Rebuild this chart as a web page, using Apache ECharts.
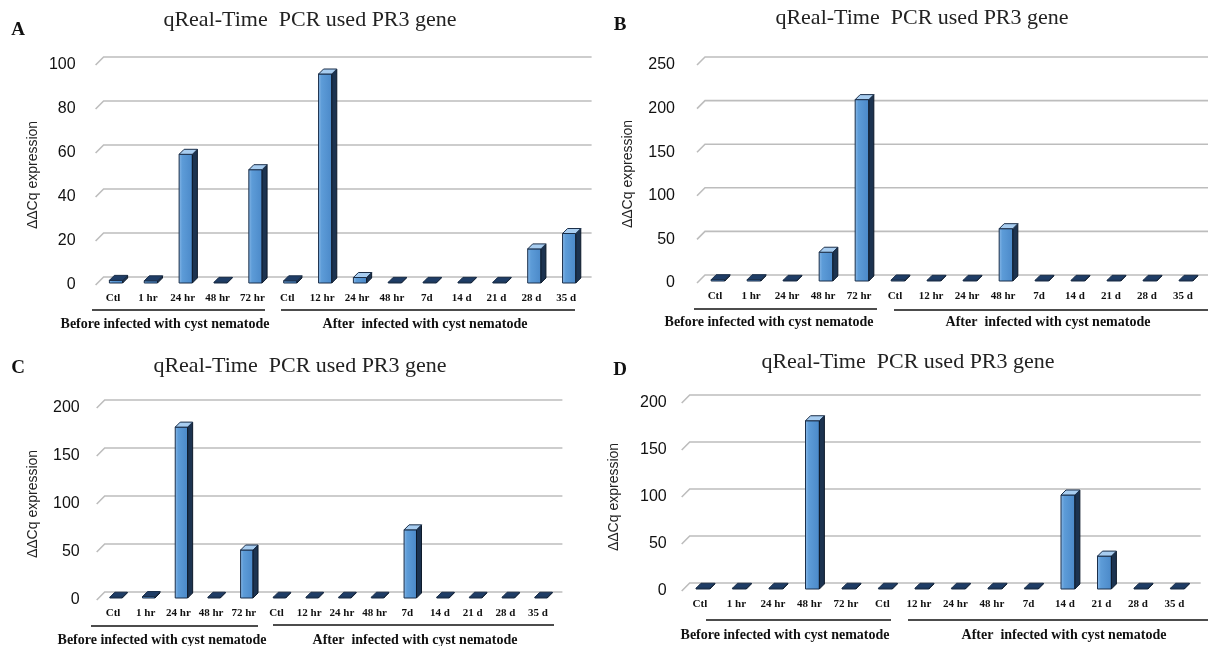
<!DOCTYPE html>
<html><head><meta charset="utf-8">
<script src="https://cdn.jsdelivr.net/npm/echarts@6/dist/echarts.min.js"></script>
<style>html,body{margin:0;padding:0;background:#fff}#c{width:1208px;height:646px}</style>
</head><body><div id="c"></div>
<script>
const categories = ['Ctl','1 hr','24 hr','48 hr','72 hr','Ctl','12 hr','24 hr','48 hr','7d','14 d','21 d','28 d','35 d'];
const valuesA = [1.2, 1.0, 58.5, 0.3, 51.5, 1.0, 95, 2.5, 0.3, 0.3, 0.3, 0.3, 15.5, 22.5];
const valuesB = [1.5, 1.5, 0.8, 33, 208, 1.2, 0.8, 0.8, 60, 0.8, 0.8, 0.8, 0.8, 0.8];
const valuesC = [0.8, 1.5, 178, 0.8, 50, 0.8, 0.8, 0.8, 0.8, 71, 0.8, 0.8, 0.8, 0.8];
const valuesD = [0.8, 0.8, 0.8, 179, 0.8, 0.8, 0.8, 0.8, 0.8, 0.8, 100, 35, 0.8, 0.8];
const ticksA = [0, 20, 40, 60, 80, 100];
const ticksB = [0, 50, 100, 150, 200, 250];
const ticksC = [0, 50, 100, 150, 200];
const ticksD = [0, 50, 100, 150, 200];
const panelLetters = ['A', 'B', 'C', 'D'];
const titleText = 'qReal-Time  PCR used PR3 gene';
const yName = 'ΔΔCq expression';
const groupBefore = 'Before infected with cyst nematode';
const groupAfter = 'After  infected with cyst nematode';

const panels = [
  {vals: valuesA, ticks: ticksA, grid: {left: 95.6, top: 65, width: 488, height: 220}, margin: 20, nameGap: 55,
   title: [310, 20], letter: [18, 30], lines: [[92, 265, 310], [281, 575, 310]], glab: [165, 425, 324]},
  {vals: valuesB, ticks: ticksB, grid: {left: 697, top: 65, width: 504, height: 218}, margin: 22, nameGap: 62,
   title: [922, 18], letter: [620, 25], lines: [[694, 877, 309], [894, 1208, 310]], glab: [769, 1048, 322]},
  {vals: valuesC, ticks: ticksC, grid: {left: 96.7, top: 408, width: 457.7, height: 192}, margin: 17, nameGap: 57,
   title: [300, 366], letter: [18, 368], lines: [[91, 258, 626], [273, 554, 625]], glab: [162, 415, 640]},
  {vals: valuesD, ticks: ticksD, grid: {left: 681.7, top: 403, width: 511, height: 188}, margin: 15, nameGap: 61,
   title: [908, 362], letter: [620, 370], lines: [[706, 891, 620], [908, 1208, 620]], glab: [785, 1064, 635]}
];

const DEPTH = 8;
function gridRender(params, api) {
  const cs = params.coordSys;
  const y = api.coord([0, api.value(1)])[1];
  return {type: 'polyline', silent: true,
    shape: {points: [[cs.x, y], [cs.x + DEPTH, y - DEPTH], [cs.x + cs.width + DEPTH, y - DEPTH]]},
    style: {stroke: '#bdbdbd', lineWidth: 1.6, fill: null}};
}
function barRender(params, api) {
  const idx = api.value(0), v = api.value(1);
  const base = api.coord([idx, 0]);
  const top = api.coord([idx, v]);
  const bw = api.size([1, 0])[0] * 0.38;
  const d = 5, off = 3;
  const xL = base[0] - bw / 2 + off, xR = xL + bw;
  const yB = base[1] - 2, yT = Math.min(top[1] - 2, yB - 0.5);
  const flat = (yB - yT) < 4;
  return {type: 'group', children: [
    {type: 'polygon', shape: {points: [[xL, yB], [xR, yB], [xR, yT], [xL, yT]]},
     style: {fill: new echarts.graphic.LinearGradient(0, 0, 1, 0, [{offset: 0, color: '#8dbbe9'}, {offset: 0.25, color: '#5d9cd8'}, {offset: 1, color: '#4a88c8'}]), stroke: '#1b2f4a', lineWidth: 1}},
    {type: 'polygon', shape: {points: [[xR, yB], [xR + d, yB - d], [xR + d, yT - d], [xR, yT]]},
     style: {fill: '#1c3350', stroke: '#0d1a2b', lineWidth: 1}},
    {type: 'polygon', shape: {points: [[xL, yT], [xR, yT], [xR + d, yT - d], [xL + d, yT - d]]},
     style: {fill: flat ? '#1f3d66' : '#a8cdf0', stroke: '#1b2f4a', lineWidth: 1}}
  ]};
}

const option = {animation: false, grid: [], xAxis: [], yAxis: [], series: [], graphic: []};
panels.forEach((p, i) => {
  option.grid.push(Object.assign({containLabel: false}, p.grid));
  option.xAxis.push({type: 'category', gridIndex: i, data: categories,
    axisLine: {show: false}, axisTick: {show: false}, splitLine: {show: false},
    axisLabel: {interval: 0, margin: 8, fontFamily: 'Liberation Serif', fontWeight: 'bold', fontSize: 11, color: '#111'}});
  const ticks = p.ticks;
  option.yAxis.push({type: 'value', gridIndex: i, min: ticks[0], max: ticks[ticks.length - 1], interval: ticks[1] - ticks[0],
    axisLine: {show: false}, axisTick: {show: false}, splitLine: {show: false},
    axisLabel: {margin: p.margin, fontFamily: 'Liberation Sans', fontSize: 16, color: '#111'},
    name: yName, nameLocation: 'middle', nameGap: p.nameGap, nameRotate: 90,
    nameTextStyle: {fontFamily: 'Liberation Sans', fontSize: 14, color: '#222'}});
  option.series.push({type: 'custom', xAxisIndex: i, yAxisIndex: i, renderItem: gridRender, z: 1, silent: true, clip: false,
    data: ticks.map(t => [0, t])});
  option.series.push({type: 'custom', xAxisIndex: i, yAxisIndex: i, renderItem: barRender, z: 2, silent: true, clip: false,
    data: p.vals.map((v, k) => [k, v])});
  option.graphic.push({type: 'text', silent: true, position: [p.title[0], p.title[1]],
    style: {text: titleText, textAlign: 'center', textVerticalAlign: 'middle', font: '22px "Liberation Serif"', fill: '#222'}});
  option.graphic.push({type: 'text', silent: true, position: [p.letter[0], p.letter[1]],
    style: {text: panelLetters[i], textAlign: 'center', textVerticalAlign: 'middle', font: 'bold 19px "Liberation Serif"', fill: '#111'}});
  p.lines.forEach(l => option.graphic.push({type: 'line', silent: true, shape: {x1: l[0], y1: l[2], x2: l[1], y2: l[2]}, style: {stroke: '#111', lineWidth: 1.5}}));
  option.graphic.push({type: 'text', silent: true, position: [p.glab[0], p.glab[2]],
    style: {text: groupBefore, textAlign: 'center', textVerticalAlign: 'middle', font: 'bold 14px "Liberation Serif"', fill: '#111'}});
  option.graphic.push({type: 'text', silent: true, position: [p.glab[1], p.glab[2]],
    style: {text: groupAfter, textAlign: 'center', textVerticalAlign: 'middle', font: 'bold 14px "Liberation Serif"', fill: '#111'}});
});
const chart = echarts.init(document.getElementById('c'), null, {renderer: 'canvas'});
chart.setOption(option);
</script></body></html>
